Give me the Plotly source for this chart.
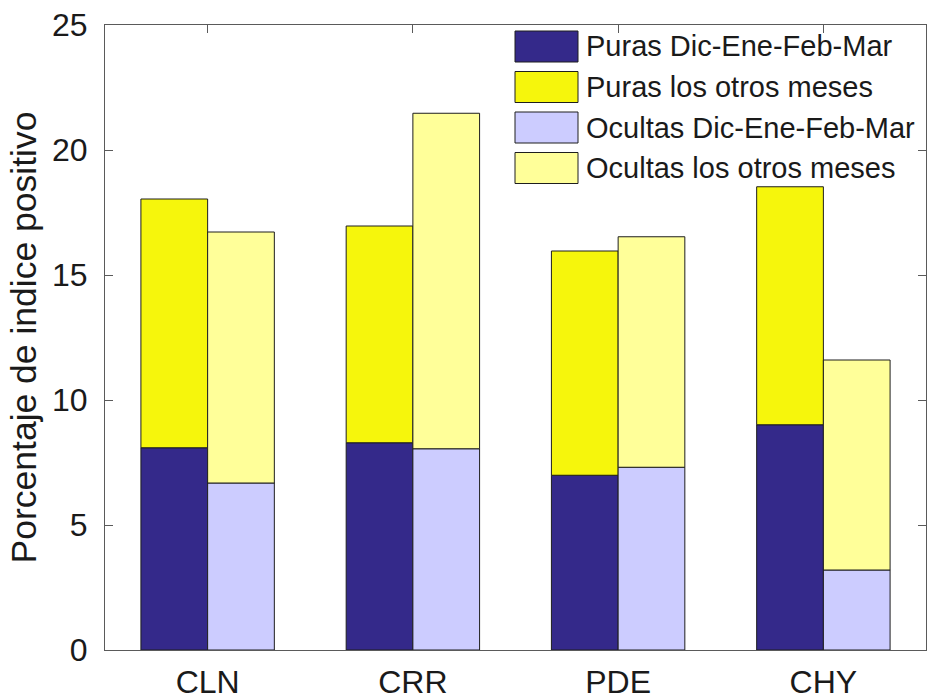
import plotly.graph_objects as go

# ---- data ----
categories = ["CLN", "CRR", "PDE", "CHY"]
series_names = ["Puras Dic-Ene-Feb-Mar", "Puras los otros meses",
                "Ocultas Dic-Ene-Feb-Mar", "Ocultas los otros meses"]
puras_dic = [8.09, 8.29, 6.99, 9.01]
puras_otros = [9.95, 8.67, 8.97, 9.52]
ocultas_dic = [6.68, 8.05, 7.31, 3.20]
ocultas_otros = [10.04, 13.42, 9.22, 8.40]
y_ticks = [0, 5, 10, 15, 20, 25]
y_title = "Porcentaje de indice positivo"

# ---- style ----
colors = ["#34298a", "#f6f60c", "#ccccff", "#ffff99"]
edge = dict(color="#1e1e1e", width=1)
FONT = "Liberation Sans, Arial, Helvetica, sans-serif"
TXT = "#1a1a1a"
AX = "#5a5a5a"

W, H = 927, 698
L, R, T, B = 105, 1, 25, 48

fig = go.Figure()
fig.add_bar(x=categories, y=puras_dic, offsetgroup="p", marker=dict(color=colors[0], line=edge),
            name=series_names[0], showlegend=False)
fig.add_bar(x=categories, y=puras_otros, base=puras_dic, offsetgroup="p",
            marker=dict(color=colors[1], line=edge), name=series_names[1], showlegend=False)
fig.add_bar(x=categories, y=ocultas_dic, offsetgroup="o", marker=dict(color=colors[2], line=edge),
            name=series_names[2], showlegend=False)
fig.add_bar(x=categories, y=ocultas_otros, base=ocultas_dic, offsetgroup="o",
            marker=dict(color=colors[3], line=edge), name=series_names[3], showlegend=False)

# ---- custom MATLAB-like legend ----
pw, ph = W - L - R, H - T - B
def px(x):
    return (x - L) / pw
def py(y):
    return (H - B - y) / ph

shapes = []
annotations = []
sw_x0, sw_x1 = 515, 578
row_top = 31
row_h = 40.5
sw_h = 31
for i, name in enumerate(series_names):
    y0 = row_top + i * row_h
    y1 = y0 + sw_h
    shapes.append(dict(type="rect", xref="paper", yref="paper",
                       x0=px(sw_x0), x1=px(sw_x1), y0=py(y1), y1=py(y0),
                       fillcolor=colors[i], line=dict(color="#1e1e1e", width=1)))
    annotations.append(dict(xref="paper", yref="paper", x=px(584), y=py((y0 + y1) / 2),
                            text=name, showarrow=False, xanchor="left", yanchor="middle",
                            font=dict(family=FONT, size=29, color=TXT)))

fig.update_layout(
    width=W, height=H,
    margin=dict(l=L, r=R, t=T, b=B),
    paper_bgcolor="white", plot_bgcolor="white",
    barmode="group", bargap=0.35, bargroupgap=0,
    shapes=shapes, annotations=annotations,
    showlegend=False,
    font=dict(family=FONT, color=TXT),
)
fig.update_xaxes(
    type="category", range=[-0.5, len(categories) - 0.5],
    showline=True, linecolor=AX, linewidth=1, mirror="ticks",
    ticks="inside", ticklen=8, tickcolor=AX, tickwidth=1,
    showgrid=False, zeroline=False, automargin=False,
    tickfont=dict(family=FONT, size=32, color=TXT),
    ticklabelstandoff=4, layer="below traces",
)
fig.update_yaxes(
    range=[0, 25], tickvals=y_ticks, ticktext=[str(v) for v in y_ticks],
    showline=True, linecolor=AX, linewidth=1, mirror="ticks",
    ticks="inside", ticklen=8, tickcolor=AX, tickwidth=1,
    showgrid=False, zeroline=False, automargin=False,
    tickfont=dict(family=FONT, size=32, color=TXT),
    ticklabelstandoff=10,
    title=dict(text=y_title, font=dict(family=FONT, size=35.5, color=TXT), standoff=4),
    layer="below traces",
)

fig.write_html(
    "out.html",
    config={"displayModeBar": False},
    post_script="document.body.style.margin='0';document.body.style.overflow='hidden';",
)
